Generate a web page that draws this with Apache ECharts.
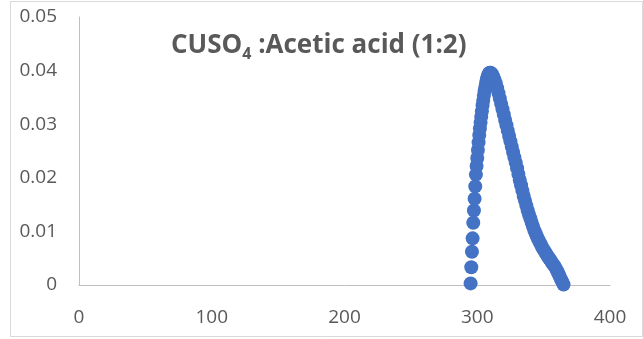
<!DOCTYPE html>
<html>
<head>
<meta charset="utf-8">
<script src="https://cdn.jsdelivr.net/npm/echarts@6/dist/echarts.min.js"></script>
<style>
html,body{margin:0;padding:0;background:#fff;}
#chart{width:643px;height:339px;}
</style>
</head>
<body>
<div id="chart"></div>
<script>
// Rising branch (0.5 nm steps)
const riseX = [295,295.5,296,296.5,297,297.5,298,298.5,299,299.5,300,300.5,301,301.5,302,302.5,303,303.5,304,304.5,305,305.5,306,306.5,307,307.5,308,308.5,309,309.5];
const riseY = [0.0003,0.0033,0.0062,0.0087,0.0116,0.0139,0.0161,0.0184,0.0206,0.0222,0.0237,0.0252,0.0266,0.0280,0.0292,0.0303,0.0314,0.0324,0.0335,0.0344,0.0353,0.0361,0.0368,0.0375,0.0381,0.0386,0.0390,0.0393,0.0395,0.0396];
// Falling branch (1 nm steps)
const fallX = [310,311,312,313,314,315,316,317,318,319,320,321,322,323,324,325,326,327,328,329,330,331,332,333,334,335,336,337,338,339,340,341,342,343,344,345,346,347,348,349,350,351,352,353,354,355,356,357,358,359,360,361,362,363,364,365];
const fallY = [0.0396,0.0394,0.0389,0.0383,0.0376,0.0367,0.0358,0.0348,0.0338,0.0328,0.0318,0.0308,0.0298,0.0288,0.0278,0.0268,0.0258,0.0248,0.0238,0.0228,0.0218,0.0207,0.0196,0.0186,0.0176,0.0166,0.0157,0.0148,0.0139,0.0131,0.0124,0.0116,0.0109,0.0102,0.0096,0.0090,0.0085,0.0080,0.0075,0.0070,0.0066,0.0062,0.0058,0.0054,0.0050,0.0047,0.0043,0.0039,0.0036,0.0032,0.0027,0.0022,0.0017,0.0011,0.0006,0.0001];
const xTicks = [0,100,200,300,400];
const yTicks = [0,0.01,0.02,0.03,0.04,0.05];

const points = [];
riseX.forEach((x,i)=>points.push([x,riseY[i]]));
fallX.forEach((x,i)=>points.push([x,fallY[i]]));

const chart = echarts.init(document.getElementById('chart'), null, {renderer:'canvas'});
const txt = '#595959';
chart.setOption({
  animation:false,
  backgroundColor:'#fff',
  graphic:[{type:'rect',shape:{x:10.5,y:1.5,width:632,height:335},style:{fill:'none',stroke:'#D9D9D9',lineWidth:1},silent:true}],
  title:{
    text:'{a|CUSO}{s|4}{a| :Acetic acid (1:2)}',
    left:166, top:24,
    textStyle:{rich:{
      a:{fontFamily:'Open Sans',fontWeight:'bold',fontSize:26,color:txt,lineHeight:33},
      s:{fontFamily:'Open Sans',fontWeight:'bold',fontSize:16,color:txt,lineHeight:18,verticalAlign:'bottom'}
    }}
  },
  grid:{left:79,right:33,top:17,bottom:54,containLabel:false},
  xAxis:{type:'value',min:0,max:400,interval:100,
    axisLine:{show:true,onZero:false,lineStyle:{color:'#BFBFBF',width:1}},
    axisTick:{show:false},splitLine:{show:false},
    axisLabel:{color:txt,fontFamily:'Open Sans',fontSize:19,margin:23,
      formatter:v=>xTicks.includes(v)?String(v):''}},
  yAxis:{type:'value',min:0,max:0.05,interval:0.01,
    axisLine:{show:true,lineStyle:{color:'#BFBFBF',width:1}},
    axisTick:{show:false},splitLine:{show:false},
    axisLabel:{color:txt,fontFamily:'Open Sans',fontSize:19,margin:22,
      formatter:v=>{const t=yTicks.find(k=>Math.abs(k-v)<1e-9);return t===undefined?'':(t===0?'0':t.toFixed(2));}}},
  series:[{type:'scatter',data:points,symbol:'circle',symbolSize:14,
    itemStyle:{color:'#4472C4',opacity:1}}]
});
</script>
</body>
</html>
